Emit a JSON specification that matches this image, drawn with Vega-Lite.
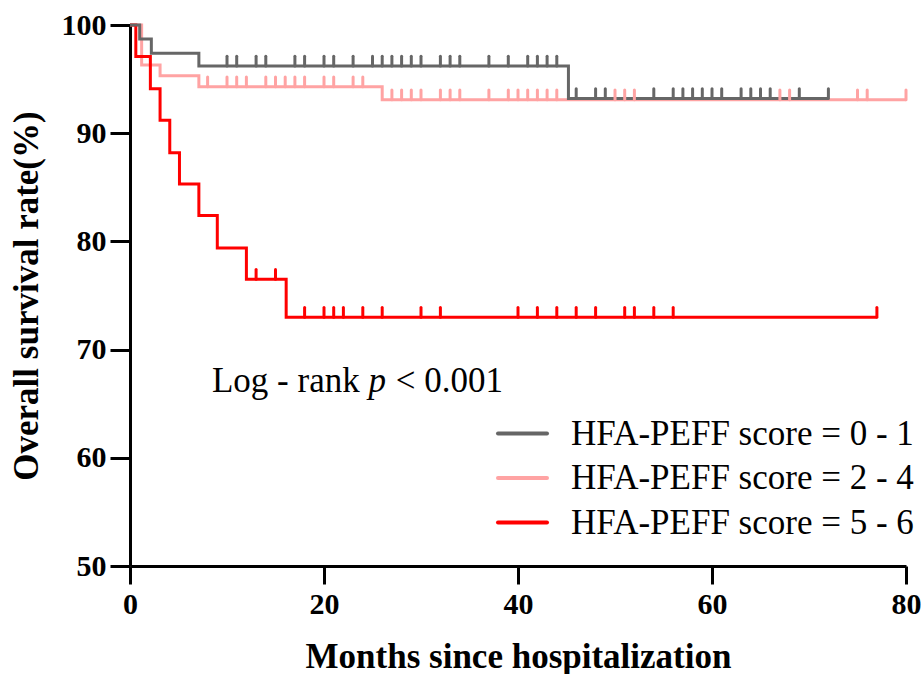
{
  "$schema": "https://vega.github.io/schema/vega-lite/v6.json",
  "width": 776,
  "height": 541,
  "autosize": {"type": "none"},
  "padding": {"left": 130, "top": 25, "right": 16, "bottom": 108},
  "background": "white",
  "config": {"view": {"stroke": null}, "font": "Liberation Serif"},
  "datasets": {
    "curves": [
      {"g": "HFA-PEFF score = 2 - 4", "t": 0, "s": 100},
      {"g": "HFA-PEFF score = 2 - 4", "t": 1.2, "s": 96.3},
      {"g": "HFA-PEFF score = 2 - 4", "t": 3.1, "s": 95.3},
      {"g": "HFA-PEFF score = 2 - 4", "t": 7.1, "s": 94.3},
      {"g": "HFA-PEFF score = 2 - 4", "t": 26, "s": 93.1},
      {"g": "HFA-PEFF score = 2 - 4", "t": 80, "s": 93.1},
      {"g": "HFA-PEFF score = 5 - 6", "t": 0, "s": 100},
      {"g": "HFA-PEFF score = 5 - 6", "t": 0.6, "s": 97.1},
      {"g": "HFA-PEFF score = 5 - 6", "t": 2.1, "s": 94.1},
      {"g": "HFA-PEFF score = 5 - 6", "t": 3.1, "s": 91.2},
      {"g": "HFA-PEFF score = 5 - 6", "t": 4.1, "s": 88.2},
      {"g": "HFA-PEFF score = 5 - 6", "t": 5.1, "s": 85.3},
      {"g": "HFA-PEFF score = 5 - 6", "t": 7.1, "s": 82.4},
      {"g": "HFA-PEFF score = 5 - 6", "t": 9.0, "s": 79.4},
      {"g": "HFA-PEFF score = 5 - 6", "t": 12.0, "s": 76.5},
      {"g": "HFA-PEFF score = 5 - 6", "t": 16.1, "s": 73.0},
      {"g": "HFA-PEFF score = 5 - 6", "t": 77, "s": 73.0},
      {"g": "HFA-PEFF score = 0 - 1", "t": 0, "s": 100},
      {"g": "HFA-PEFF score = 0 - 1", "t": 1.0, "s": 98.7},
      {"g": "HFA-PEFF score = 0 - 1", "t": 2.2, "s": 97.4},
      {"g": "HFA-PEFF score = 0 - 1", "t": 7.1, "s": 96.2},
      {"g": "HFA-PEFF score = 0 - 1", "t": 45.2, "s": 93.2},
      {"g": "HFA-PEFF score = 0 - 1", "t": 72, "s": 93.2}
    ],
    "censors": [
      {"g": "HFA-PEFF score = 2 - 4", "t": 8, "s": 94.3},
      {"g": "HFA-PEFF score = 2 - 4", "t": 10, "s": 94.3},
      {"g": "HFA-PEFF score = 2 - 4", "t": 11, "s": 94.3},
      {"g": "HFA-PEFF score = 2 - 4", "t": 12, "s": 94.3},
      {"g": "HFA-PEFF score = 2 - 4", "t": 14, "s": 94.3},
      {"g": "HFA-PEFF score = 2 - 4", "t": 15, "s": 94.3},
      {"g": "HFA-PEFF score = 2 - 4", "t": 16, "s": 94.3},
      {"g": "HFA-PEFF score = 2 - 4", "t": 17, "s": 94.3},
      {"g": "HFA-PEFF score = 2 - 4", "t": 18, "s": 94.3},
      {"g": "HFA-PEFF score = 2 - 4", "t": 20, "s": 94.3},
      {"g": "HFA-PEFF score = 2 - 4", "t": 21, "s": 94.3},
      {"g": "HFA-PEFF score = 2 - 4", "t": 23, "s": 94.3},
      {"g": "HFA-PEFF score = 2 - 4", "t": 24, "s": 94.3},
      {"g": "HFA-PEFF score = 2 - 4", "t": 27, "s": 93.1},
      {"g": "HFA-PEFF score = 2 - 4", "t": 28, "s": 93.1},
      {"g": "HFA-PEFF score = 2 - 4", "t": 29, "s": 93.1},
      {"g": "HFA-PEFF score = 2 - 4", "t": 30, "s": 93.1},
      {"g": "HFA-PEFF score = 2 - 4", "t": 32, "s": 93.1},
      {"g": "HFA-PEFF score = 2 - 4", "t": 33, "s": 93.1},
      {"g": "HFA-PEFF score = 2 - 4", "t": 34, "s": 93.1},
      {"g": "HFA-PEFF score = 2 - 4", "t": 37, "s": 93.1},
      {"g": "HFA-PEFF score = 2 - 4", "t": 39, "s": 93.1},
      {"g": "HFA-PEFF score = 2 - 4", "t": 40, "s": 93.1},
      {"g": "HFA-PEFF score = 2 - 4", "t": 41, "s": 93.1},
      {"g": "HFA-PEFF score = 2 - 4", "t": 42, "s": 93.1},
      {"g": "HFA-PEFF score = 2 - 4", "t": 43, "s": 93.1},
      {"g": "HFA-PEFF score = 2 - 4", "t": 44, "s": 93.1},
      {"g": "HFA-PEFF score = 2 - 4", "t": 50, "s": 93.1},
      {"g": "HFA-PEFF score = 2 - 4", "t": 51, "s": 93.1},
      {"g": "HFA-PEFF score = 2 - 4", "t": 52, "s": 93.1},
      {"g": "HFA-PEFF score = 2 - 4", "t": 67, "s": 93.1},
      {"g": "HFA-PEFF score = 2 - 4", "t": 68, "s": 93.1},
      {"g": "HFA-PEFF score = 2 - 4", "t": 75, "s": 93.1},
      {"g": "HFA-PEFF score = 2 - 4", "t": 76, "s": 93.1},
      {"g": "HFA-PEFF score = 2 - 4", "t": 80, "s": 93.1},
      {"g": "HFA-PEFF score = 5 - 6", "t": 13, "s": 76.5},
      {"g": "HFA-PEFF score = 5 - 6", "t": 15, "s": 76.5},
      {"g": "HFA-PEFF score = 5 - 6", "t": 18, "s": 73.0},
      {"g": "HFA-PEFF score = 5 - 6", "t": 20, "s": 73.0},
      {"g": "HFA-PEFF score = 5 - 6", "t": 21, "s": 73.0},
      {"g": "HFA-PEFF score = 5 - 6", "t": 22, "s": 73.0},
      {"g": "HFA-PEFF score = 5 - 6", "t": 24, "s": 73.0},
      {"g": "HFA-PEFF score = 5 - 6", "t": 26, "s": 73.0},
      {"g": "HFA-PEFF score = 5 - 6", "t": 30, "s": 73.0},
      {"g": "HFA-PEFF score = 5 - 6", "t": 32, "s": 73.0},
      {"g": "HFA-PEFF score = 5 - 6", "t": 40, "s": 73.0},
      {"g": "HFA-PEFF score = 5 - 6", "t": 42, "s": 73.0},
      {"g": "HFA-PEFF score = 5 - 6", "t": 44, "s": 73.0},
      {"g": "HFA-PEFF score = 5 - 6", "t": 46, "s": 73.0},
      {"g": "HFA-PEFF score = 5 - 6", "t": 48, "s": 73.0},
      {"g": "HFA-PEFF score = 5 - 6", "t": 51, "s": 73.0},
      {"g": "HFA-PEFF score = 5 - 6", "t": 52, "s": 73.0},
      {"g": "HFA-PEFF score = 5 - 6", "t": 54, "s": 73.0},
      {"g": "HFA-PEFF score = 5 - 6", "t": 56, "s": 73.0},
      {"g": "HFA-PEFF score = 5 - 6", "t": 77, "s": 73.0},
      {"g": "HFA-PEFF score = 0 - 1", "t": 10, "s": 96.2},
      {"g": "HFA-PEFF score = 0 - 1", "t": 11, "s": 96.2},
      {"g": "HFA-PEFF score = 0 - 1", "t": 13, "s": 96.2},
      {"g": "HFA-PEFF score = 0 - 1", "t": 14, "s": 96.2},
      {"g": "HFA-PEFF score = 0 - 1", "t": 17, "s": 96.2},
      {"g": "HFA-PEFF score = 0 - 1", "t": 18, "s": 96.2},
      {"g": "HFA-PEFF score = 0 - 1", "t": 20, "s": 96.2},
      {"g": "HFA-PEFF score = 0 - 1", "t": 21, "s": 96.2},
      {"g": "HFA-PEFF score = 0 - 1", "t": 23, "s": 96.2},
      {"g": "HFA-PEFF score = 0 - 1", "t": 25, "s": 96.2},
      {"g": "HFA-PEFF score = 0 - 1", "t": 26, "s": 96.2},
      {"g": "HFA-PEFF score = 0 - 1", "t": 27, "s": 96.2},
      {"g": "HFA-PEFF score = 0 - 1", "t": 28, "s": 96.2},
      {"g": "HFA-PEFF score = 0 - 1", "t": 29, "s": 96.2},
      {"g": "HFA-PEFF score = 0 - 1", "t": 30, "s": 96.2},
      {"g": "HFA-PEFF score = 0 - 1", "t": 32, "s": 96.2},
      {"g": "HFA-PEFF score = 0 - 1", "t": 33, "s": 96.2},
      {"g": "HFA-PEFF score = 0 - 1", "t": 34, "s": 96.2},
      {"g": "HFA-PEFF score = 0 - 1", "t": 37, "s": 96.2},
      {"g": "HFA-PEFF score = 0 - 1", "t": 39, "s": 96.2},
      {"g": "HFA-PEFF score = 0 - 1", "t": 41, "s": 96.2},
      {"g": "HFA-PEFF score = 0 - 1", "t": 42, "s": 96.2},
      {"g": "HFA-PEFF score = 0 - 1", "t": 43, "s": 96.2},
      {"g": "HFA-PEFF score = 0 - 1", "t": 44, "s": 96.2},
      {"g": "HFA-PEFF score = 0 - 1", "t": 46, "s": 93.2},
      {"g": "HFA-PEFF score = 0 - 1", "t": 48, "s": 93.2},
      {"g": "HFA-PEFF score = 0 - 1", "t": 49, "s": 93.2},
      {"g": "HFA-PEFF score = 0 - 1", "t": 54, "s": 93.2},
      {"g": "HFA-PEFF score = 0 - 1", "t": 56, "s": 93.2},
      {"g": "HFA-PEFF score = 0 - 1", "t": 57, "s": 93.2},
      {"g": "HFA-PEFF score = 0 - 1", "t": 58, "s": 93.2},
      {"g": "HFA-PEFF score = 0 - 1", "t": 59, "s": 93.2},
      {"g": "HFA-PEFF score = 0 - 1", "t": 60, "s": 93.2},
      {"g": "HFA-PEFF score = 0 - 1", "t": 61, "s": 93.2},
      {"g": "HFA-PEFF score = 0 - 1", "t": 63, "s": 93.2},
      {"g": "HFA-PEFF score = 0 - 1", "t": 64, "s": 93.2},
      {"g": "HFA-PEFF score = 0 - 1", "t": 65, "s": 93.2},
      {"g": "HFA-PEFF score = 0 - 1", "t": 66, "s": 93.2},
      {"g": "HFA-PEFF score = 0 - 1", "t": 69, "s": 93.2},
      {"g": "HFA-PEFF score = 0 - 1", "t": 72, "s": 93.2}
    ]
  },
  "layer": [
    {
      "data": {"name": "curves"},
      "mark": {"type": "line", "interpolate": "step-after", "strokeWidth": 3, "strokeJoin": "miter"},
      "encoding": {
        "x": {
          "field": "t", "type": "quantitative",
          "scale": {"domain": [0, 80], "nice": false, "zero": false},
          "axis": {
            "title": "Months since hospitalization",
            "values": [0, 20, 40, 60, 80],
            "grid": false,
            "domainColor": "black", "domainWidth": 3,
            "tickColor": "black", "tickWidth": 3, "tickSize": 18,
            "labelFont": "Liberation Serif", "labelFontWeight": "bold", "labelFontSize": 30,
            "labelColor": "black", "labelPadding": 5, "labelFlush": false, "labelOverlap": false,
            "titleFont": "Liberation Serif", "titleFontSize": 35, "titleFontWeight": "bold",
            "titleColor": "black", "titlePadding": 20
          }
        },
        "y": {
          "field": "s", "type": "quantitative",
          "scale": {"domain": [50, 100], "nice": false, "zero": false},
          "axis": {
            "title": "Overall survival rate(%)",
            "values": [50, 60, 70, 80, 90, 100],
            "grid": false,
            "domainColor": "black", "domainWidth": 3,
            "tickColor": "black", "tickWidth": 3, "tickSize": 20,
            "labelFont": "Liberation Serif", "labelFontWeight": "bold", "labelFontSize": 30,
            "labelColor": "black", "labelPadding": 4, "labelOverlap": false,
            "titleFont": "Liberation Serif", "titleFontSize": 35, "titleFontWeight": "bold",
            "titleColor": "black", "titlePadding": 17
          }
        },
        "color": {
          "field": "g", "type": "nominal",
          "scale": {
            "domain": ["HFA-PEFF score = 0 - 1", "HFA-PEFF score = 2 - 4", "HFA-PEFF score = 5 - 6"],
            "range": ["#666666", "#FFA3A3", "#FF0000"]
          },
          "legend": {
            "orient": "none", "legendX": 375, "legendY": 391,
            "title": null, "padding": 0,
            "symbolType": "M-2,0L2,0", "symbolSize": 600, "symbolStrokeWidth": 4,
            "labelFont": "Liberation Serif", "labelFontSize": 35, "labelColor": "black",
            "labelOffset": 31, "labelLimit": 500, "rowPadding": 8.5,
            "encode": {"symbols": {"update": {"strokeCap": {"value": "round"}}}}
          }
        }
      }
    },
    {
      "data": {"name": "censors"},
      "mark": {"type": "point", "shape": "M0,0L0,-1", "size": 380, "filled": false, "strokeWidth": 3, "strokeCap": "round", "opacity": 1},
      "encoding": {
        "x": {"field": "t", "type": "quantitative"},
        "y": {"field": "s", "type": "quantitative"},
        "stroke": {
          "field": "g", "type": "nominal",
          "scale": {
            "domain": ["HFA-PEFF score = 0 - 1", "HFA-PEFF score = 2 - 4", "HFA-PEFF score = 5 - 6"],
            "range": ["#666666", "#FFA3A3", "#FF0000"]
          },
          "legend": null
        }
      }
    },
    {
      "data": {"values": [{}]},
      "mark": {"type": "text", "font": "Liberation Serif", "fontSize": 35, "align": "left", "baseline": "alphabetic", "color": "black"},
      "encoding": {
        "x": {"datum": 8.45, "type": "quantitative"},
        "y": {"datum": 66.1, "type": "quantitative"},
        "text": {"value": "Log - rank"}
      }
    },
    {
      "data": {"values": [{}]},
      "mark": {"type": "text", "font": "Liberation Serif", "fontSize": 35, "fontStyle": "italic", "align": "left", "baseline": "alphabetic", "color": "black"},
      "encoding": {
        "x": {"datum": 24.6, "type": "quantitative"},
        "y": {"datum": 66.1, "type": "quantitative"},
        "text": {"value": "p"}
      }
    },
    {
      "data": {"values": [{}]},
      "mark": {"type": "text", "font": "Liberation Serif", "fontSize": 35, "align": "left", "baseline": "alphabetic", "color": "black"},
      "encoding": {
        "x": {"datum": 27.4, "type": "quantitative"},
        "y": {"datum": 66.1, "type": "quantitative"},
        "text": {"value": "< 0.001"}
      }
    }
  ]
}
